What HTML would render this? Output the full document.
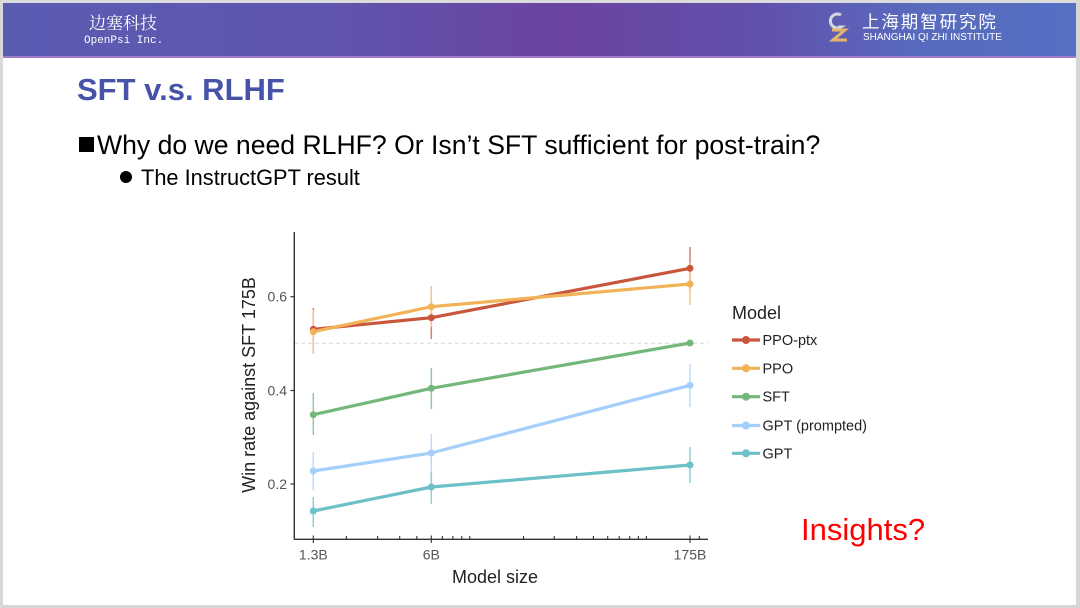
<!DOCTYPE html>
<html><head><meta charset="utf-8">
<style>
html,body{margin:0;padding:0;background:#fff;}
body{width:1080px;height:608px;position:relative;overflow:hidden;font-family:"Liberation Sans",Arial,sans-serif;}
.frame{position:absolute;left:0;top:0;width:1080px;height:608px;box-sizing:border-box;border-left:3px solid #d9d9d9;border-top:3px solid #dcdcdc;border-right:4px solid #d6d6d6;border-bottom:3px solid #d6d6d6;}
.banner{position:absolute;left:3px;top:3px;width:1073px;height:53px;background:linear-gradient(90deg,#5a5cb2 0%,#5f55ae 30%,#6a43a0 52%,#6150ab 70%,#586abd 85%,#5670c3 100%);border-bottom:2px solid #a27cc8;}
.t{position:absolute;white-space:nowrap;}
</style></head><body>
<div class="frame"></div>
<div class="banner"></div>
<div class="t" style="left:89px;top:11px;font-family:'Noto Serif CJK SC','Noto Sans CJK SC',serif;font-size:17px;color:#fff;line-height:22px;">边塞科技</div>
<div class="t" style="left:84px;top:34px;font-family:'Liberation Mono',monospace;font-size:11px;color:#fff;line-height:14px;">OpenPsi Inc.</div>
<svg style="position:absolute;left:826px;top:10px" width="30" height="34" viewBox="0 0 30 34">
  <path d="M15 5 A7 7 0 1 0 15 17 L12 17" fill="none" stroke="#d6d6dc" stroke-width="3"/>
  <path d="M6 20 L19 20 L7 30 L21 30" fill="none" stroke="#e8b46a" stroke-width="3"/>
</svg>
<div class="t" style="left:862px;top:11px;font-family:'Noto Sans CJK SC',sans-serif;font-size:17.5px;letter-spacing:1.9px;color:#fff;line-height:22px;">上海期智研究院</div>
<div class="t" style="left:863px;top:32px;font-size:10px;color:#fff;line-height:11px;">SHANGHAI QI ZHI INSTITUTE</div>

<div class="t" style="left:77px;top:72px;font-size:31px;font-weight:bold;color:#4653a8;line-height:36px;">SFT v.s. RLHF</div>
<div style="position:absolute;left:79px;top:137px;width:15px;height:15px;background:#000;"></div>
<div class="t" style="left:97px;top:130px;font-size:26.6px;color:#000;line-height:30px;">Why do we need RLHF? Or Isn’t SFT sufficient for post-train?</div>
<div style="position:absolute;left:120px;top:171px;width:12px;height:12px;border-radius:50%;background:#000;"></div>
<div class="t" style="left:141px;top:165px;font-size:21.8px;color:#000;line-height:25px;">The InstructGPT result</div>
<div class="t" style="left:801px;top:512px;font-size:31px;color:#ff0000;line-height:36px;">Insights?</div>

<svg style="position:absolute;left:0;top:0" width="1080" height="608" viewBox="0 0 1080 608">
  <g font-family="Liberation Sans, Arial, sans-serif">
  <line x1="294" y1="343.3" x2="708" y2="343.3" stroke="#d8d8d8" stroke-width="1" stroke-dasharray="4,3"/>
  <line x1="294.3" y1="232" x2="294.3" y2="539.5" stroke="#333" stroke-width="1.4"/>
  <line x1="294" y1="539.3" x2="708" y2="539.3" stroke="#333" stroke-width="1.4"/>
  <g stroke="#333" stroke-width="1.2">
    <line x1="290.5" y1="296.7" x2="294" y2="296.7"/>
    <line x1="290.5" y1="390.5" x2="294" y2="390.5"/>
    <line x1="290.5" y1="484" x2="294" y2="484"/>
  </g>
  <g font-size="14" fill="#555" text-anchor="end">
    <text x="287" y="301.7">0.6</text>
    <text x="287" y="395.5">0.4</text>
    <text x="287" y="489">0.2</text>
  </g>
  <g stroke="#333" stroke-width="1.1">
    <line x1="313.3" y1="535.5" x2="313.3" y2="543"/>
    <line x1="431.3" y1="535.5" x2="431.3" y2="543"/>
    <line x1="690" y1="535.5" x2="690" y2="543"/>
    <line x1="346.4" y1="536" x2="346.4" y2="539"/>
    <line x1="377.6" y1="536" x2="377.6" y2="539"/>
    <line x1="399.7" y1="536" x2="399.7" y2="539"/>
    <line x1="416.8" y1="536" x2="416.8" y2="539"/>
    <line x1="442.4" y1="536" x2="442.4" y2="539"/>
    <line x1="452.9" y1="536" x2="452.9" y2="539"/>
    <line x1="461.8" y1="536" x2="461.8" y2="539"/>
    <line x1="469.8" y1="536" x2="469.8" y2="539"/>
    <line x1="523.5" y1="536" x2="523.5" y2="539"/>
    <line x1="554.2" y1="536" x2="554.2" y2="539"/>
    <line x1="576.6" y1="536" x2="576.6" y2="539"/>
    <line x1="593.4" y1="536" x2="593.4" y2="539"/>
    <line x1="607.7" y1="536" x2="607.7" y2="539"/>
    <line x1="619.2" y1="536" x2="619.2" y2="539"/>
    <line x1="629.7" y1="536" x2="629.7" y2="539"/>
    <line x1="638.4" y1="536" x2="638.4" y2="539"/>
    <line x1="646.4" y1="536" x2="646.4" y2="539"/>
    <line x1="699.3" y1="536" x2="699.3" y2="539"/>
  </g>
  <g font-size="14" fill="#555" text-anchor="middle">
    <text x="313.3" y="559.5">1.3B</text>
    <text x="431.3" y="559.5">6B</text>
    <text x="690" y="559.5">175B</text>
  </g>
  <text x="495" y="583" font-size="18" fill="#222" text-anchor="middle">Model size</text>
  <text transform="translate(255,385) rotate(-90)" font-size="18" fill="#222" text-anchor="middle">Win rate against SFT 175B</text>

  <g stroke-width="1.5" opacity="0.75">
    <g stroke="#c9563c">
      <line x1="313.3" y1="308" x2="313.3" y2="350"/>
      <line x1="431.3" y1="297" x2="431.3" y2="339"/>
      <line x1="690" y1="247" x2="690" y2="290"/>
    </g>
    <g stroke="#f2b257">
      <line x1="313.3" y1="310" x2="313.3" y2="354"/>
      <line x1="431.3" y1="286" x2="431.3" y2="327"/>
      <line x1="690" y1="263" x2="690" y2="305"/>
    </g>
    <g stroke="#74b77a">
      <line x1="313.3" y1="393" x2="313.3" y2="435"/>
      <line x1="431.3" y1="368" x2="431.3" y2="409"/>
    </g>
    <g stroke="#a4cffa">
      <line x1="313.3" y1="452" x2="313.3" y2="490"/>
      <line x1="431.3" y1="434" x2="431.3" y2="478"/>
      <line x1="690" y1="364" x2="690" y2="407"/>
    </g>
    <g stroke="#6cc0c8">
      <line x1="313.3" y1="497" x2="313.3" y2="527"/>
      <line x1="431.3" y1="472" x2="431.3" y2="504"/>
      <line x1="690" y1="447" x2="690" y2="483"/>
    </g>
  </g>
  <g fill="none" stroke-width="3.2" stroke-linejoin="round" stroke-linecap="round">
    <polyline stroke="#6cc0c8" points="313.3,511 431.3,487 690,465"/>
    <polyline stroke="#a4cffa" points="313.3,471 431.3,453 690,385.3"/>
    <polyline stroke="#74b77a" points="313.3,414.7 431.3,388.3 690,343"/>
    <polyline stroke="#c9563c" points="313.3,329.3 431.3,317.7 690,268.3"/>
    <polyline stroke="#f2b257" points="313.3,331.7 431.3,306.7 690,284"/>
  </g>
  <g>
    <g fill="#6cc0c8"><circle cx="313.3" cy="511" r="3.5"/><circle cx="431.3" cy="487" r="3.5"/><circle cx="690" cy="465" r="3.5"/></g>
    <g fill="#a4cffa"><circle cx="313.3" cy="471" r="3.5"/><circle cx="431.3" cy="453" r="3.5"/><circle cx="690" cy="385.3" r="3.5"/></g>
    <g fill="#74b77a"><circle cx="313.3" cy="414.7" r="3.5"/><circle cx="431.3" cy="388.3" r="3.5"/><circle cx="690" cy="343" r="3.5"/></g>
    <g fill="#c9563c"><circle cx="313.3" cy="329.3" r="3.5"/><circle cx="431.3" cy="317.7" r="3.5"/><circle cx="690" cy="268.3" r="3.5"/></g>
    <g fill="#f2b257"><circle cx="313.3" cy="331.7" r="3.5"/><circle cx="431.3" cy="306.7" r="3.5"/><circle cx="690" cy="284" r="3.5"/></g>
  </g>

  <text x="732" y="319" font-size="18" fill="#222">Model</text>
  <g stroke-width="3.2">
    <line x1="732" y1="340" x2="760" y2="340" stroke="#c9563c"/>
    <line x1="732" y1="368.3" x2="760" y2="368.3" stroke="#f2b257"/>
    <line x1="732" y1="396.7" x2="760" y2="396.7" stroke="#74b77a"/>
    <line x1="732" y1="425.5" x2="760" y2="425.5" stroke="#a4cffa"/>
    <line x1="732" y1="453.3" x2="760" y2="453.3" stroke="#6cc0c8"/>
  </g>
  <circle cx="746" cy="340" r="4" fill="#c9563c"/>
  <circle cx="746" cy="368.3" r="4" fill="#f2b257"/>
  <circle cx="746" cy="396.7" r="4" fill="#74b77a"/>
  <circle cx="746" cy="425.5" r="4" fill="#a4cffa"/>
  <circle cx="746" cy="453.3" r="4" fill="#6cc0c8"/>
  <g font-size="14.5" fill="#222">
    <text x="762.5" y="345">PPO-ptx</text>
    <text x="762.5" y="373.3">PPO</text>
    <text x="762.5" y="401.7">SFT</text>
    <text x="762.5" y="430.5">GPT (prompted)</text>
    <text x="762.5" y="458.3">GPT</text>
  </g>
  </g>
</svg>
</body></html>
